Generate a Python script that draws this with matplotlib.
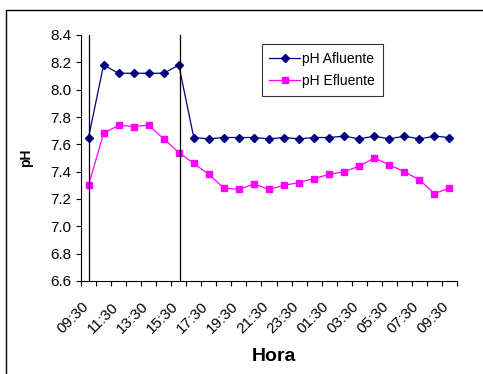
import numpy as np
import matplotlib
matplotlib.use("Agg")
import matplotlib.pyplot as plt
from matplotlib.lines import Line2D
from matplotlib.transforms import ScaledTranslation

plt.rcParams['font.family'] = ['Liberation Sans', 'DejaVu Sans']

# hourly samples from 09:30 to 09:30 next day
horas = ['09:30', '10:30', '11:30', '12:30', '13:30', '14:30', '15:30', '16:30',
         '17:30', '18:30', '19:30', '20:30', '21:30', '22:30', '23:30', '00:30',
         '01:30', '02:30', '03:30', '04:30', '05:30', '06:30', '07:30', '08:30',
         '09:30']
ph_afluente = [7.65, 8.18, 8.12, 8.12, 8.12, 8.12, 8.18, 7.65, 7.64, 7.65,
               7.65, 7.65, 7.64, 7.65, 7.64, 7.65, 7.65, 7.66, 7.64, 7.66,
               7.64, 7.66, 7.64, 7.66, 7.65]
ph_efluente = [7.30, 7.68, 7.74, 7.73, 7.74, 7.64, 7.54, 7.46, 7.38, 7.28,
               7.27, 7.31, 7.27, 7.30, 7.32, 7.35, 7.38, 7.40, 7.44, 7.50,
               7.45, 7.40, 7.34, 7.24, 7.28]
marcas = ['09:30', '15:30']  # vertical reference lines

fig = plt.figure(figsize=(4.83, 3.74), dpi=100)
ax = fig.add_axes([81/483, 1-281/374, 376/483, 246/374])

x = np.arange(len(horas))
ax.plot(x, ph_afluente, color='#000080', marker='D', markersize=4.3, lw=0.9, label='pH Afluente')
ax.plot(x, ph_efluente, color='#FF00FF', marker='s', markersize=4.5, lw=0.9, label='pH Efluente')

for m in marcas:
    ax.axvline(horas.index(m) + 0.05, color='black', lw=0.9)

ax.set_xlim(-0.5, len(horas) - 0.5)
ax.set_ylim(6.6, 8.4)
yt = np.arange(6.6, 8.41, 0.2)
ax.set_yticks(yt)
ax.set_yticklabels([f'{v:.1f}' for v in yt])

ax.set_xticks(np.arange(-0.5, len(horas), 1.0))
ax.set_xticklabels([])
ax.set_xticks(x[::2], minor=True)
ax.set_xticklabels(horas[::2], minor=True, rotation=45, ha='right', va='center',
                   rotation_mode='anchor')
ax.tick_params(axis='x', which='minor', length=0, pad=17, labelsize=11)
ax.tick_params(axis='x', which='major', length=3.6, direction='out')
ax.tick_params(axis='y', length=3.6, direction='out', labelsize=11)
for lab in ax.get_xticklabels(minor=True):
    lab.set_transform(lab.get_transform() + ScaledTranslation(-2.5/100, 0, fig.dpi_scale_trans))

for s in ['top', 'right']:
    ax.spines[s].set_visible(False)

ax.set_ylabel('pH', fontweight='bold', fontsize=10)
ax.yaxis.set_label_coords(-0.128, 0.5)
ax.set_xlabel('Hora', fontweight='bold', fontsize=14)
ax.xaxis.set_label_coords(0.513, -0.272)

leg = ax.legend(loc='upper left', bbox_to_anchor=(0.481, 0.963), fontsize=10,
                frameon=True, fancybox=False, edgecolor='black', handlelength=2.2,
                borderpad=0.55, labelspacing=0.6, handletextpad=0.15,
                borderaxespad=0)
leg.get_frame().set_linewidth(0.8)

# outer chart frame (cropped)
fig.add_artist(Line2D([6/483, 1], [1-10/374, 1-10/374], color='black', lw=1.0))
fig.add_artist(Line2D([6/483, 6/483], [0, 1-10/374], color='black', lw=1.0))

fig.savefig('out.png', dpi=100)
